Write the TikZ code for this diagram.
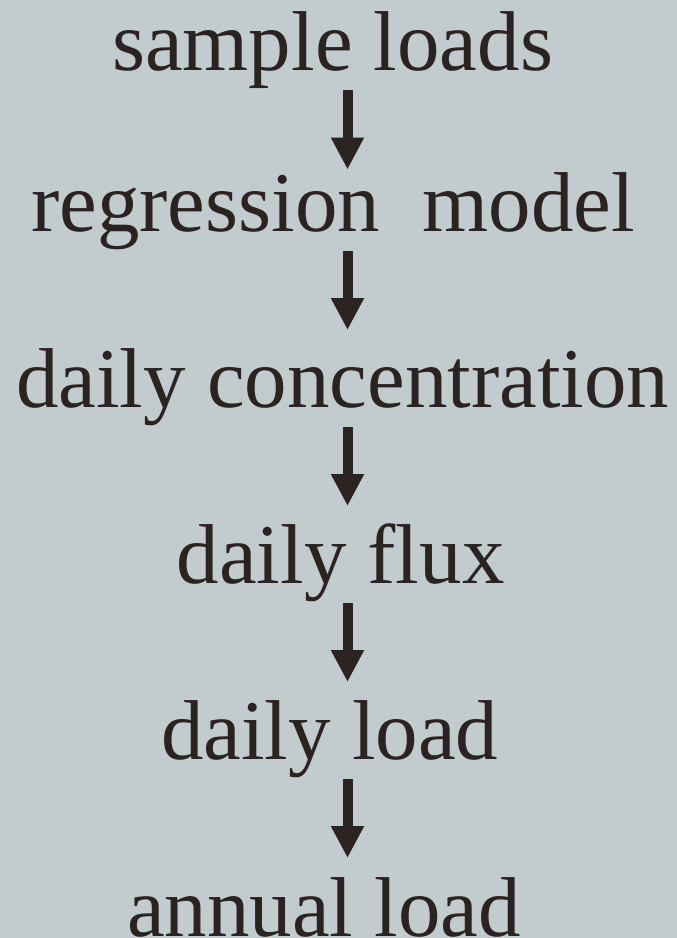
\documentclass[tikz,border=0pt]{standalone}
\usepackage{fontspec}
\setmainfont{Liberation Serif}
\usetikzlibrary{arrows.meta}

\definecolor{bgcol}{RGB}{194,204,207}
\definecolor{inkcol}{RGB}{43,34,34}

\tikzset{
  stage/.style={anchor=base west, inner sep=0pt, text=inkcol,
    font=\fontsize{84.9}{90}\selectfont},
  flow/.style={draw=inkcol, line width=10pt,
    -{Triangle[width=31pt,length=32pt]}, shorten <=20pt, shorten >=77pt},
}

\begin{document}
\begin{tikzpicture}[x=1pt,y=1pt]
  % canvas
  \fill[bgcol] (0,0) rectangle (677,-938);
  \useasboundingbox (0,0) rectangle (677,-938);

  % vertical axis of the arrows
  \coordinate (axis) at (347.5,0);

  % stages of the load estimation
  \node[stage] (s1) at (112,-70)    {sample loads};
  \node[stage] (s2) at (31,-231)    {regression\ \ model};
  \node[stage] (s3) at (16,-407)    {daily concentration};
  \node[stage] (s4) at (176.5,-583) {daily flux};
  \node[stage] (s5) at (161,-759)   {daily load};
  \node[stage] (s6) at (127,-936)   {annual load};

  % arrows between stages
  \draw[flow, shorten >=61.5pt] (s1.base -| axis) -- (s2.base -| axis);
  \draw[flow] (s2.base -| axis) -- (s3.base -| axis);
  \draw[flow] (s3.base -| axis) -- (s4.base -| axis);
  \draw[flow] (s4.base -| axis) -- (s5.base -| axis);
  \draw[flow, shorten >=78pt] (s5.base -| axis) -- (s6.base -| axis);
\end{tikzpicture}
\end{document}
